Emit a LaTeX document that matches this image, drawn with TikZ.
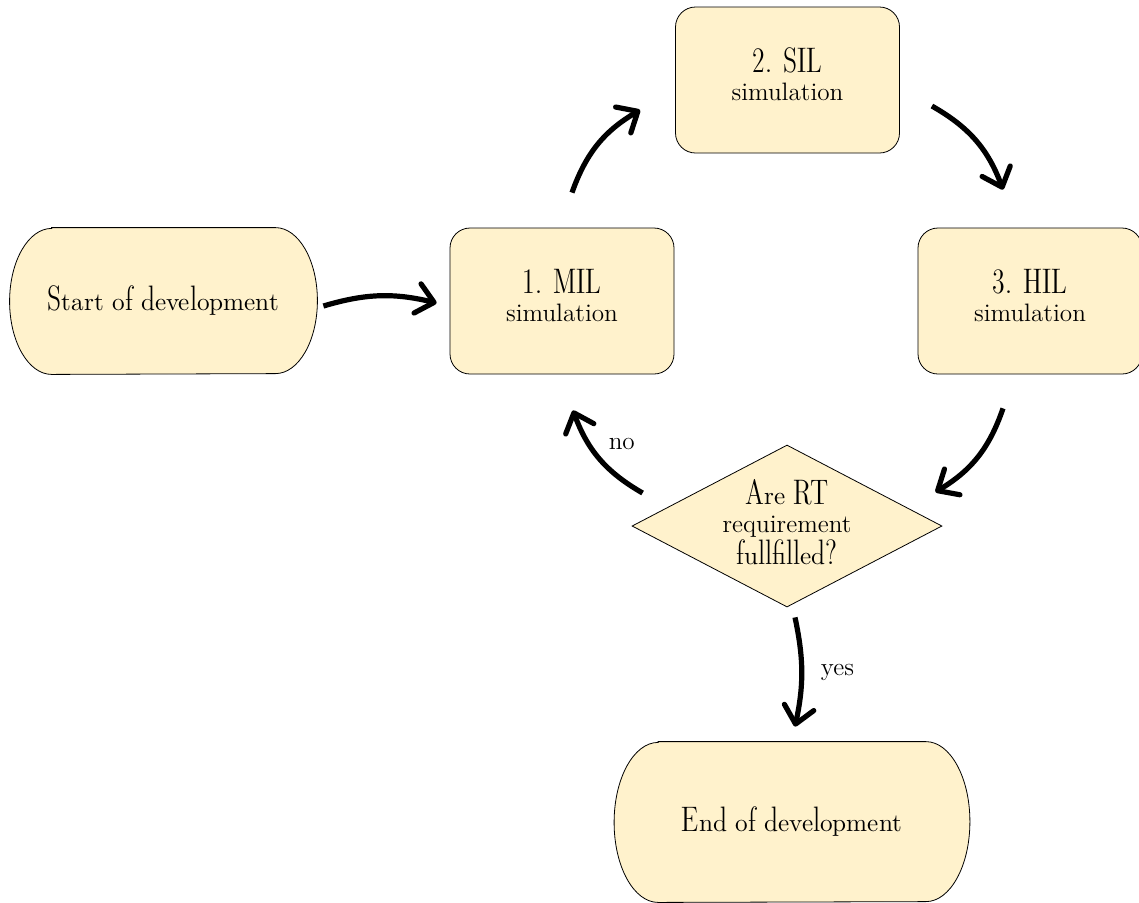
\documentclass[tikz,border=0pt]{standalone}
\usepackage{fontspec}
\usepackage{tikz}
\usetikzlibrary{shapes.geometric}
\usetikzlibrary{arrows.meta}
\usetikzlibrary{backgrounds}
\newfontfamily\dunhill{lmromandunh10-regular.otf}
\definecolor{lightcream}{RGB}{255,242,204}

\begin{document}
\begin{tikzpicture}[x=0.5pt, y=-0.5pt,
        every node/.style={font=\fontsize{12.6}{14}\selectfont},
        terminal/.style={rectangle, font=\dunhill\fontsize{12.6}{14}\selectfont},
        capsule/.style={draw, fill=lightcream},
        process/.style={draw, rectangle, rounded corners=10pt, fill=lightcream,
            minimum width=112pt, minimum height=73pt, align=center, text depth=6pt},
        decision/.style={draw, diamond, fill=lightcream, aspect=1.9, inner sep=0pt,
            minimum width=155pt, minimum height=81pt, align=center, text depth=4pt},
        flow/.style={-{Straight Barb[length=8.5pt, width=15pt, round]}, line width=2.6pt}]
        \useasboundingbox (0,0) rectangle (1139,902);

        \node[terminal, minimum width=153.5pt, minimum height=73pt] (start) at (163.5,301) {Start of development};
        \node[process]  (mil) at (562,301)  {{\dunhill 1. MIL}\\simulation};
        \node[process]  (sil) at (787.5,80) {{\dunhill 2. SIL}\\simulation};
        \node[process]  (hil) at (1030,301) {{\dunhill 3. HIL}\\simulation};
        \node[decision] (rt)  at (787,526)  {{\dunhill Are RT}\\requirement\\{\dunhill fullfilled?}};
        \node[terminal, minimum width=177.5pt, minimum height=80pt] (end) at (792,822) {End of development};

        % start/end boxes with half-ellipse caps
        \begin{scope}[on background layer]
            \draw[capsule] ([xshift=21pt]start.north west) -- ([xshift=-21pt]start.north east)
                arc[start angle=90, end angle=-90, x radius=21pt, y radius=36.5pt]
                -- ([xshift=21pt]start.south west)
                arc[start angle=270, end angle=90, x radius=21pt, y radius=36.5pt] -- cycle;
            \draw[capsule] ([xshift=22pt]end.north west) -- ([xshift=-22pt]end.north east)
                arc[start angle=90, end angle=-90, x radius=22pt, y radius=40pt]
                -- ([xshift=22pt]end.south west)
                arc[start angle=270, end angle=90, x radius=22pt, y radius=40pt] -- cycle;
        \end{scope}

        \draw[flow] ([shift={(6,5)}]start.east) to[bend left=15] ([shift={(-13,2)}]mil.west);
        \draw[flow] ([shift={(10,-35)}]mil.north) to[bend left=20] ([shift={(-35,30)}]sil.west);
        \draw[flow] ([shift={(32,26)}]sil.east) to[bend left=20] ([shift={(-27,-38)}]hil.north);
        \draw[flow] ([shift={(-27,34)}]hil.south) to[bend left=20] ([shift={(-7,-34)}]rt.east);
        \draw[flow] ([shift={(11,-33)}]rt.west) to[bend left=20]
            node[midway, above right] {no} ([shift={(11,36)}]mil.south);
        \draw[flow] ([shift={(8,10)}]rt.south) to[bend left=12]
            node[midway, right=5pt] {yes} ([shift={(3,-15)}]end.north);
    \end{tikzpicture}
\end{document}
